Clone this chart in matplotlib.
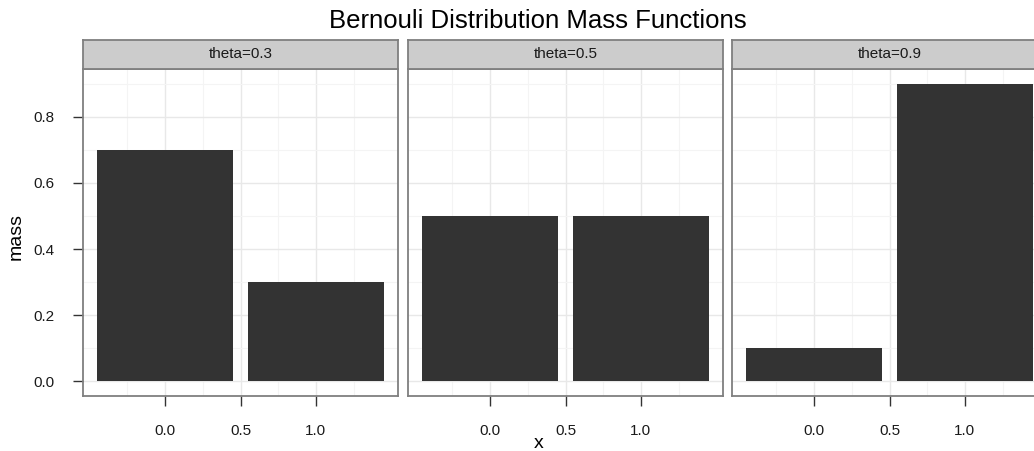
import numpy as np
import matplotlib
matplotlib.use("Agg")
import matplotlib.pyplot as plt

plt.rcParams['font.family'] = ['Liberation Sans', 'DejaVu Sans']

# data
thetas = [0.3, 0.5, 0.9]
xvals = [0, 1]
mass = [[0.7, 0.3],
        [0.5, 0.5],
        [0.1, 0.9]]
xticks = [0.0, 0.5, 1.0]
yticks = [0.0, 0.2, 0.4, 0.6, 0.8]

W, H = 1034, 451
fig = plt.figure(figsize=(W / 100, H / 100), dpi=100)

# panel pixel boxes (left edges), the last one runs off the right side
lefts = [83, 408, 732]
pw = 315
top, bot, strip_top = 69, 396, 40

border = '#7f7f7f'
for i, th in enumerate(thetas):
    l = lefts[i]
    ax = fig.add_axes([l / W, (H - bot) / H, pw / W, (bot - top) / H])
    ax.bar(xvals, mass[i], width=0.9, color='#333333', zorder=3)
    ax.set_xlim(-0.545, 1.545)
    ax.set_ylim(-0.045, 0.945)
    ax.set_xticks(xticks)
    ax.set_xticklabels(['%.1f' % v for v in xticks])
    ax.set_xticks([-0.25, 0.25, 0.75, 1.25], minor=True)
    ax.set_yticks(yticks)
    ax.set_yticks([0.1, 0.3, 0.5, 0.7, 0.9], minor=True)
    if i == 0:
        ax.set_yticklabels(['%.1f' % v for v in yticks])
    else:
        ax.tick_params(axis='y', which='both', left=False, labelleft=False)
    ax.grid(which='major', color='#e8e8e8', linewidth=1.0, zorder=0)
    ax.grid(which='minor', color='#f4f4f4', linewidth=0.8, zorder=0)
    ax.set_axisbelow(True)
    ax.tick_params(axis='both', which='major', length=7.5, width=1.0,
                   color='#333333', labelsize=11, labelcolor='#1a1a1a', pad=13)
    ax.tick_params(axis='both', which='minor', length=0)
    for s in ax.spines.values():
        s.set_color(border)
        s.set_linewidth(1.3)

    # strip
    sax = fig.add_axes([l / W, (H - top) / H, pw / W, (top - strip_top) / H])
    sax.set_facecolor('#cccccc')
    sax.set_xticks([])
    sax.set_yticks([])
    for s in sax.spines.values():
        s.set_color(border)
        s.set_linewidth(1.3)
    sax.text(0.5, 0.5, 'theta=%s' % th, ha='center', va='center',
             fontsize=11, color='#1a1a1a', transform=sax.transAxes)

fig.text(538 / W, 1 - 21 / H, 'Bernouli Distribution Mass Functions',
         ha='center', va='center', fontsize=18.5)
fig.text(539 / W, 1 - 443 / H, 'x', ha='center', va='center', fontsize=14)
fig.text(16 / W, 1 - 237 / H, 'mass', ha='center', va='center',
         rotation=90, fontsize=14)

fig.savefig('out.png', dpi=100)
